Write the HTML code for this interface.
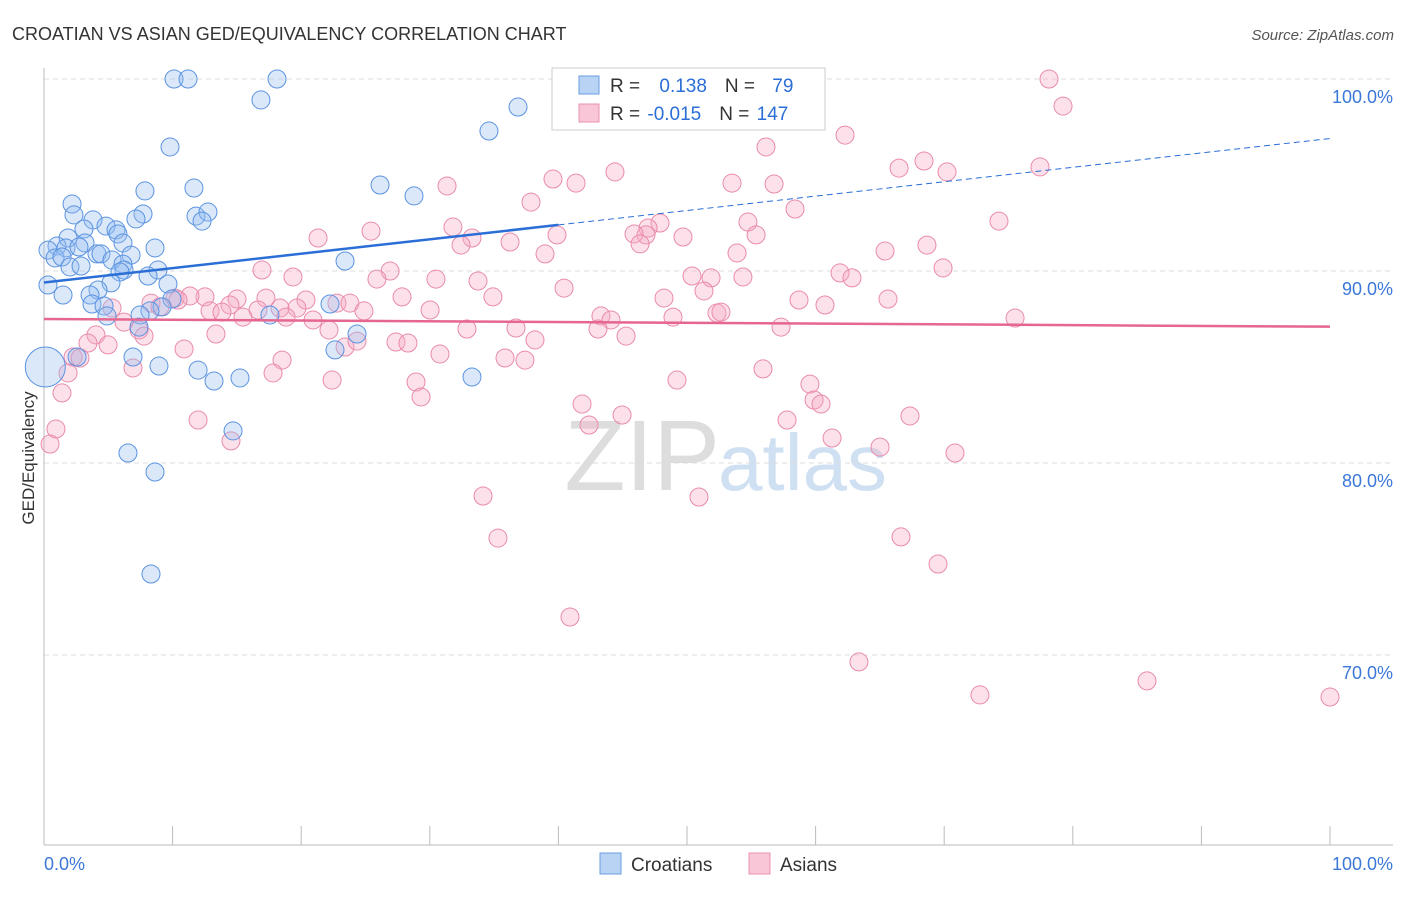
<!DOCTYPE html>
<html><head><meta charset="utf-8"><style>
body{margin:0;background:#fff;font-family:"Liberation Sans",sans-serif}
svg text{font-family:"Liberation Sans",sans-serif}
</style></head><body>
<svg id="chart" width="1406" height="892">
<text x="12" y="40" font-size="18" fill="#333">CROATIAN VS ASIAN GED/EQUIVALENCY CORRELATION CHART</text>
<text x="1394" y="40" font-size="15" fill="#555" font-style="italic" text-anchor="end">Source: ZipAtlas.com</text>
<text x="720" y="490" font-size="100" fill="#ddd" text-anchor="end" font-family="Liberation Serif">ZIP</text>
<text x="718" y="490" font-size="80" fill="#cfe0f2">atlas</text>
<g id="grid"></g>
<g id="axes"></g>
<g id="pts"></g>
<g id="lines"></g>
<text transform="translate(34,458) rotate(-90)" font-size="17" fill="#333" text-anchor="middle">GED/Equivalency</text>
<g>
<rect x="552" y="68" width="273" height="62" fill="#fff" stroke="#ccc"/>
<rect x="579" y="76" width="20" height="18" fill="#b8d3f3" stroke="#6a9de0"/>
<rect x="579" y="104" width="20" height="18" fill="#f8c6d6" stroke="#e892b0"/>
<text x="610" y="92" font-size="19" fill="#333">R = <tspan fill="#2a6ed6" dx="14">0.138</tspan><tspan dx="18" fill="#333">N = </tspan><tspan dx="12" fill="#2a6ed6">79</tspan></text>
<text x="610" y="120" font-size="19" fill="#333">R = <tspan fill="#2a6ed6" dx="2">-0.015</tspan><tspan dx="18" fill="#333">N = </tspan><tspan dx="2" fill="#2a6ed6">147</tspan></text>
</g>
<g>
<rect x="600" y="853" width="21" height="21" fill="#b8d3f3" stroke="#6a9de0"/>
<text x="631" y="871" font-size="19" fill="#333">Croatians</text>
<rect x="749" y="853" width="21" height="21" fill="#f8c6d6" stroke="#e892b0"/>
<text x="780" y="871" font-size="19" fill="#333">Asians</text>
</g>
</svg>
<script>
const yTicks=[100,90,80,70];
const yTickLabels=["100.0%","90.0%","80.0%","70.0%"];
const xTicks=[0,10,20,30,40,50,60,70,80,90,100];
const xTickLabels=["0.0%","100.0%"];
const blueXY=[[174,79],[188,79],[277,79],[261,100],[518,107],[489,131],[170,147],[380,185],[194,188],[414,196],[145,191],[72,204],[143,214],[74,215],[196,216],[208,212],[202,221],[93,220],[136,219],[106,226],[116,230],[84,229],[118,234],[68,238],[85,243],[123,243],[57,246],[48,250],[66,248],[155,248],[79,247],[97,254],[131,255],[101,254],[55,258],[62,257],[112,260],[123,264],[345,261],[70,267],[81,266],[158,270],[148,276],[124,270],[120,272],[48,285],[168,284],[63,295],[111,283],[98,290],[90,295],[92,304],[104,306],[172,299],[330,304],[162,307],[150,311],[107,316],[140,315],[270,315],[139,327],[357,334],[335,350],[133,357],[77,357],[159,366],[198,370],[214,381],[240,378],[472,377],[233,431],[128,453],[155,472],[151,574]];
const pinkXY=[[1049,79],[1063,106],[845,135],[766,147],[1040,167],[899,168],[924,161],[947,172],[615,172],[553,179],[576,183],[447,186],[732,183],[774,184],[531,202],[795,209],[999,221],[748,222],[453,227],[660,223],[648,228],[646,235],[634,234],[472,238],[683,237],[318,238],[371,231],[510,242],[557,235],[640,244],[756,235],[885,251],[927,245],[461,245],[545,254],[737,253],[943,268],[262,270],[390,271],[377,279],[436,279],[293,277],[478,281],[692,276],[711,278],[743,277],[840,273],[852,278],[564,288],[493,297],[664,298],[704,291],[237,299],[266,298],[306,300],[337,303],[402,297],[430,310],[799,300],[825,305],[888,299],[175,298],[205,297],[190,296],[230,305],[258,310],[280,308],[297,308],[350,303],[151,303],[178,300],[160,307],[112,308],[210,311],[222,312],[243,317],[286,317],[313,320],[364,311],[601,316],[611,320],[673,317],[717,313],[721,312],[1015,318],[124,322],[139,330],[144,336],[96,335],[108,345],[88,343],[598,329],[626,336],[467,329],[516,328],[781,327],[184,349],[216,334],[329,330],[345,347],[357,341],[396,342],[408,343],[535,340],[73,357],[80,358],[440,354],[505,358],[525,360],[282,360],[133,368],[68,373],[273,373],[763,369],[677,380],[332,380],[416,382],[421,397],[810,384],[814,400],[821,404],[582,404],[589,425],[622,415],[787,420],[910,416],[198,420],[62,393],[56,429],[50,444],[231,441],[832,438],[880,447],[955,453],[483,496],[699,497],[498,538],[901,537],[938,564],[570,617],[859,662],[980,695],[1147,681],[1330,697]];
const blueX=blueXY.map(p=>+((p[0]-44)/12.86).toFixed(2));
const blueY=blueXY.map(p=>+(100-(p[1]-79)/19.2).toFixed(2));
const pinkX=pinkXY.map(p=>+((p[0]-44)/12.86).toFixed(2));
const pinkY=pinkXY.map(p=>+(100-(p[1]-79)/19.2).toFixed(2));
const blueBigX=[0.1], blueBigY=[85.0];
const blueTrend=[89.4,96.9];
const pinkTrend=[87.5,87.1];
const sx=v=>44+v*12.86, sy=v=>79+(100-v)*19.2;
const NS="http://www.w3.org/2000/svg";
function mk(tag,attrs,parent){const e=document.createElementNS(NS,tag);for(const k in attrs)e.setAttribute(k,attrs[k]);parent.appendChild(e);return e;}
const grid=document.getElementById('grid'),axes=document.getElementById('axes'),pts=document.getElementById('pts'),lines=document.getElementById('lines');
yTicks.forEach((t,i)=>{
 const l=mk('line',{x1:44,x2:1393,y1:sy(t),y2:sy(t),stroke:'#ddd','stroke-dasharray':'5,4'},grid);
 
 
 const tx=mk('text',{x:1393,y:sy(t)+24,'font-size':18,fill:'#3b78d8','text-anchor':'end'},axes);
 tx.textContent=yTickLabels[i];
 
 
});
const ax=mk('line',{x1:44,x2:44,y1:68,y2:845,stroke:'#bbb'},axes);


const bx=mk('line',{x1:44,x2:1393,y1:845,y2:845,stroke:'#bbb'},axes);


xTicks.forEach(t=>{
 const l=mk('line',{x1:sx(t),x2:sx(t),y1:826,y2:845,stroke:'#bbb'},axes);
 
 
});
const xl0=mk('text',{x:44,y:870,'font-size':18,fill:'#3b78d8'},axes);xl0.textContent=xTickLabels[0];


const xl1=mk('text',{x:1393,y:870,'font-size':18,fill:'#3b78d8','text-anchor':'end'},axes);xl1.textContent=xTickLabels[1];


pinkX.forEach((x,i)=>{
 const c=mk('circle',{cx:sx(x),cy:sy(pinkY[i]),r:9,fill:'rgba(245,170,195,0.35)',stroke:'#e98bab','stroke-width':1},pts);
 
 
});
blueX.forEach((x,i)=>{
 const c=mk('circle',{cx:sx(x),cy:sy(blueY[i]),r:9,fill:'rgba(150,190,240,0.35)',stroke:'#5b93e0','stroke-width':1},pts);
 
 
});
blueBigX.forEach((x,i)=>{
 const c=mk('circle',{cx:sx(x),cy:sy(blueBigY[i]),r:20,fill:'rgba(150,190,240,0.35)',stroke:'#5b93e0','stroke-width':1},pts);
 
 
});
const by=x=>blueTrend[0]+(blueTrend[1]-blueTrend[0])*x/100;
const b1=mk('line',{x1:sx(0),y1:sy(by(0)),x2:sx(40),y2:sy(by(40)),stroke:'#2a6ed6','stroke-width':2.5},lines);


const b2=mk('line',{x1:sx(40),y1:sy(by(40)),x2:sx(100),y2:sy(by(100)),stroke:'#2a6ed6','stroke-width':1,'stroke-dasharray':'6,4'},lines);


const p1=mk('line',{x1:sx(0),y1:sy(pinkTrend[0]),x2:sx(100),y2:sy(pinkTrend[1]),stroke:'#e5668f','stroke-width':2.5},lines);


</script>
</body></html>
